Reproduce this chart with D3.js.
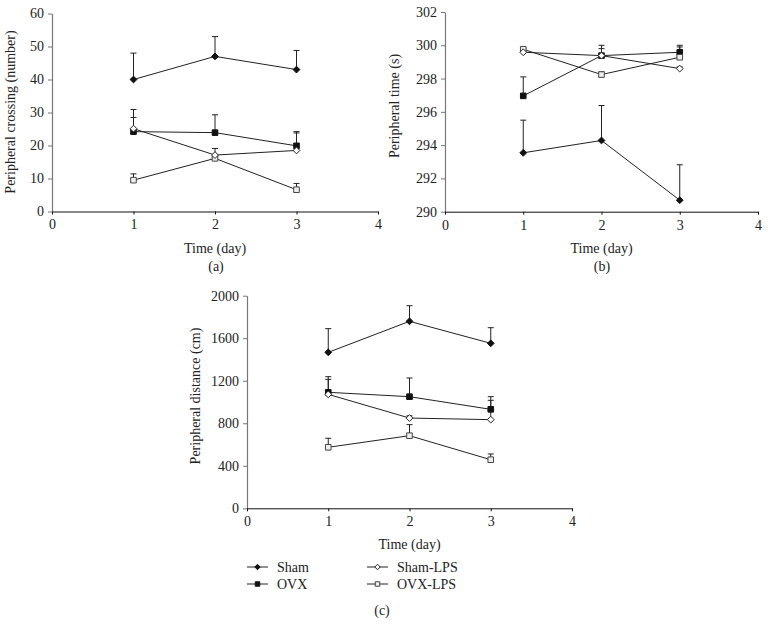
<!DOCTYPE html>
<html>
<head>
<meta charset="utf-8">
<script src="https://cdn.jsdelivr.net/npm/d3@7"></script>
<style>
  body { margin: 0; background: #fff; }
  svg text { font-family: "Liberation Serif", "Times New Roman", serif; fill: #222; }
</style>
</head>
<body>
<svg width="768" height="624"></svg>
<script>
// data
const days = [1, 2, 3];
const groups = ['Sham', 'OVX', 'Sham-LPS', 'OVX-LPS'];

// (a) peripheral crossing, mean and top of error bar, per group
const crossingMean = [[40, 47, 43], [24.2, 23.9, 19.9], [25.1, 17.1, 18.5], [9.5, 16.1, 6.6]];
const crossingTop = [[48, 53, 48.8], [28.5, 29.3, 24.2], [30.9, 19.1, 23.8], [11.4, 16.6, 8.5]];
const crossingTicks = [0, 10, 20, 30, 40, 50, 60];

// (b) peripheral time
const timeMean = [[293.54, 294.28, 290.69], [296.96, 299.38, 299.58], [299.58, 299.38, 298.6], [299.76, 298.24, 299.28]];
const timeTop = [[295.5, 296.38, 292.82], [298.1, 299.8, 299.9], [299.8, 300.0, 298.7], [299.85, 298.4, 300.0]];
const timeTicks = [290, 292, 294, 296, 298, 300, 302];

// (c) peripheral distance
const distMean = [[1467, 1759, 1552], [1091, 1050, 931], [1072, 849, 834], [574, 683, 457]];
const distTop = [[1690, 1906, 1699], [1213, 1226, 1050], [1238, 870, 1016], [659, 787, 511]];
const distTicks = [0, 400, 800, 1200, 1600, 2000];

const xTicks = [0, 1, 2, 3, 4];

const svg = d3.select('svg');
const FONT = '"Liberation Serif", "Times New Roman", serif';
const FS = '14px';

// marker per group: diamond, square, open diamond, open square
const symShape = ['diamond', 'square', 'diamond', 'square'];
const symFill = ['#111', '#111', '#fff', '#eee'];
const symStroke = ['#111', '#111', '#222', '#444'];

const drawMarker = (sel, i, s) => {
    const r = s || 1;
    let d;
    if (symShape[i] === 'diamond') {
        const h = 3.4 * r;
        d = `M0,${-h}L${h},0L0,${h}L${-h},0Z`;
    } else {
        const h = 2.8 * r;
        d = `M${-h},${-h}H${h}V${h}H${-h}Z`;
    }
    sel.append('path')
        .attr('d', d)
        .attr('fill', symFill[i])
        .attr('stroke', symStroke[i])
        .attr('stroke-width', 1);
};

const drawPanel = (cfg) => {
    const x = d3.scaleLinear().domain([0, 4]).range([cfg.left, cfg.right]);
    const y = d3.scaleLinear().domain([cfg.ticks[0], cfg.ticks[cfg.ticks.length - 1]]).range([cfg.bottom, cfg.top]);
    const g = svg.append('g');

    // y axis
    const ya = g.append('g')
        .attr('transform', `translate(${cfg.left},0)`)
        .call(d3.axisLeft(y).tickValues(cfg.ticks).tickFormat(d3.format('d')).tickSize(4).tickSizeOuter(0).tickPadding(4));
    ya.attr('font-family', FONT);
    ya.select('.domain').attr('stroke', '#777').attr('stroke-width', 1.2);
    ya.selectAll('line').attr('stroke', '#777');
    ya.selectAll('text').style('font-size', FS).attr('fill', '#222');

    // x axis
    const xa = g.append('g')
        .attr('transform', `translate(0,${cfg.bottom})`)
        .call(d3.axisBottom(x).tickValues(xTicks).tickFormat(d3.format('d')).tickSize(3).tickSizeOuter(0).tickPadding(5));
    xa.attr('font-family', FONT);
    xa.select('.domain').attr('stroke', '#111');
    xa.selectAll('line').attr('stroke', '#111');
    xa.selectAll('text').style('font-size', FS).attr('fill', '#222');

    // axis titles
    g.append('text')
        .attr('x', (x(0) + x(4)) / 2).attr('y', cfg.bottom + 41)
        .attr('text-anchor', 'middle').style('font-size', FS)
        .text('Time (day)');
    g.append('text')
        .attr('transform', `translate(${cfg.ylabX},${cfg.ylabY}) rotate(-90)`)
        .attr('text-anchor', 'middle').style('font-size', FS)
        .text(cfg.ylabel);
    g.append('text')
        .attr('x', cfg.tagX).attr('y', cfg.tagY)
        .attr('text-anchor', 'middle').style('font-size', FS)
        .text(cfg.tag);

    const line = d3.line().x((d, j) => x(days[j])).y(d => y(d));

    // error bars (upper only)
    cfg.top_.forEach((arr, i) => {
        arr.forEach((t, j) => {
            g.append('line')
                .attr('x1', x(days[j])).attr('x2', x(days[j]))
                .attr('y1', y(cfg.mean[i][j])).attr('y2', y(t))
                .attr('stroke', '#222').attr('stroke-width', 1);
            g.append('line')
                .attr('x1', x(days[j]) - 3).attr('x2', x(days[j]) + 3)
                .attr('y1', y(t)).attr('y2', y(t))
                .attr('stroke', '#222').attr('stroke-width', 1);
        });
    });

    // lines and markers, open ones last so they sit on top
    [0, 1, 3, 2].forEach(i => {
        g.append('path')
            .datum(cfg.mean[i])
            .attr('d', line)
            .attr('fill', 'none')
            .attr('stroke', '#222')
            .attr('stroke-width', 1);
    });
    [0, 1, 3, 2].forEach(i => {
        cfg.mean[i].forEach((v, j) => {
            const m = g.append('g').attr('transform', `translate(${x(days[j])},${y(v)})`);
            drawMarker(m, i);
        });
    });
};

drawPanel({
    left: 52, right: 378, top: 13.5, bottom: 211.5,
    ticks: crossingTicks, mean: crossingMean, top_: crossingTop,
    ylabel: 'Peripheral crossing (number)', ylabX: 15, ylabY: 112,
    tag: '(a)', tagX: 216, tagY: 271
});

drawPanel({
    left: 445, right: 758, top: 12, bottom: 211.7,
    ticks: timeTicks, mean: timeMean, top_: timeTop,
    ylabel: 'Peripheral time (s)', ylabX: 399, ylabY: 106,
    tag: '(b)', tagX: 602, tagY: 271
});

drawPanel({
    left: 247, right: 572, top: 295.7, bottom: 508.3,
    ticks: distTicks, mean: distMean, top_: distTop,
    ylabel: 'Peripheral distance (cm)', ylabX: 200, ylabY: 396,
    tag: '(c)', tagX: 382, tagY: 615
});

// legend
const legendX = [247, 367];
const legendY = [567, 584];
groups.forEach((name, i) => {
    const col = i < 2 ? 0 : 1;
    const row = i % 2;
    const lg = svg.append('g').attr('transform', `translate(${legendX[col]},${legendY[row]})`);
    lg.append('line').attr('x1', 0).attr('x2', 21).attr('y1', 0).attr('y2', 0)
        .attr('stroke', '#222').attr('stroke-width', 1);
    const m = lg.append('g').attr('transform', 'translate(10.5,0)');
    drawMarker(m, i, 0.8);
    lg.append('text').attr('x', 30).attr('y', 4.5).style('font-size', FS).text(name);
});
</script>
</body>
</html>
